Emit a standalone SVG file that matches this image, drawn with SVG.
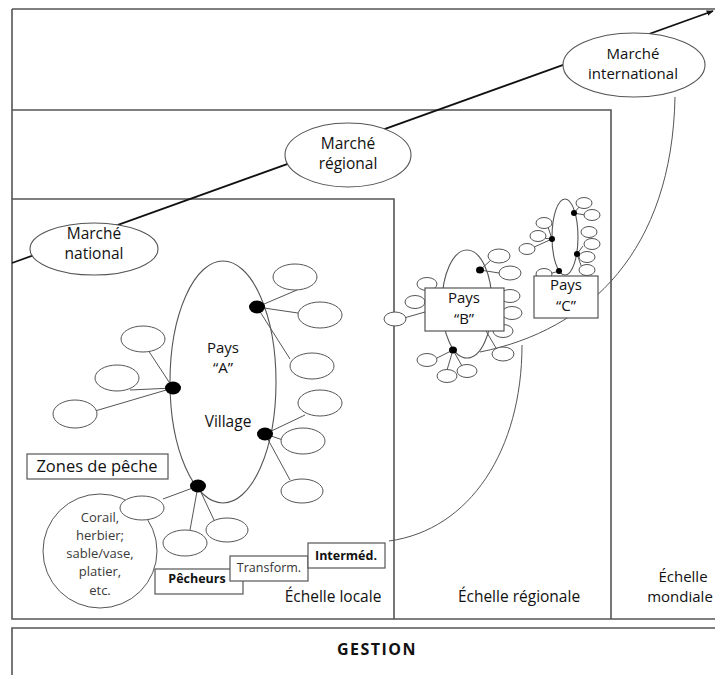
<svg xmlns="http://www.w3.org/2000/svg" width="715" height="675" viewBox="0 0 715 675">
<defs>
<style>
.frame{fill:none;stroke:#555;stroke-width:1.6}
.ell{fill:none;stroke:#555;stroke-width:1.1}
.sat{fill:#fff;stroke:#555;stroke-width:1}
.ln{fill:none;stroke:#555;stroke-width:1}
.dot{fill:#000}
.box{fill:#fff;stroke:#555;stroke-width:1.2}
.wf{fill:#fff}
text{font-family:"Open Sans","Noto Sans","Liberation Sans",sans-serif;fill:#111;text-anchor:middle}
.t15{font-size:15.5px}
.st{font-size:15px}
.lt{font-size:13px;fill:#3a3a3a}
.sm{font-size:12.5px}
.b{font-weight:bold}
</style>
<marker id="arr" viewBox="0 0 10 10" refX="9" refY="5" markerWidth="7" markerHeight="7" orient="auto" markerUnits="userSpaceOnUse">
<path d="M0,1 L10,5 L0,9 z" fill="#111"/>
</marker>
</defs>
<rect width="715" height="675" fill="#fff"/>

<g id="frames">
<path class="frame" d="M12,9 H715 M12,9 V619 H715 M12,110 H611 V619 M12,199 H394 V619 M715,628 H12 V675"/>
</g>

<g id="connectors">
<line x1="12" y1="263" x2="713" y2="11" stroke="#111" stroke-width="1.8" marker-end="url(#arr)"/>
<path class="ln" d="M675,97 C672,250 590,330 480,352"/>
<path class="ln" d="M389,541 C470,530 522,450 522,345"/>
</g>

<g id="marche-national">
<ellipse class="ell wf" cx="94" cy="249" rx="64" ry="26"/>
<text class="t15" x="94" y="239">Marché</text>
<text class="t15" x="94" y="259">national</text>
</g>
<g id="marche-regional">
<ellipse class="ell wf" cx="348" cy="155" rx="63" ry="32"/>
<text class="t15" x="348" y="149">Marché</text>
<text class="t15" x="348" y="169">régional</text>
</g>
<g id="marche-international">
<ellipse class="ell wf" cx="634" cy="65" rx="71" ry="32"/>
<text class="st" x="633" y="59">Marché</text>
<text class="st" x="633" y="79">international</text>
</g>

<g id="pays-a">
<path class="ln" d="M257,307 L297,290 M257,307 L298,313 M257,307 L290,359 M173,388 L148,350 M173,388 L130,390 M173,388 L95,411 M265,434 L305,415 M265,434 L283,440 M265,434 L290,480 M198,486 L163,499 M198,486 L190,530 M198,486 L214,520"/>
<ellipse class="ell" cx="223" cy="382" rx="53" ry="121"/>
<ellipse class="sat" cx="295" cy="277" rx="22" ry="13"/>
<ellipse class="sat" cx="320" cy="315" rx="22" ry="13"/>
<ellipse class="sat" cx="312" cy="366" rx="22" ry="13"/>
<ellipse class="sat" cx="143" cy="339" rx="22" ry="13"/>
<ellipse class="sat" cx="117" cy="378" rx="22" ry="13"/>
<ellipse class="sat" cx="75" cy="414" rx="22" ry="14"/>
<ellipse class="sat" cx="320" cy="403" rx="22" ry="13"/>
<ellipse class="sat" cx="303" cy="441" rx="22" ry="13"/>
<ellipse class="sat" cx="302" cy="491" rx="21" ry="12"/>
<ellipse class="dot" cx="257" cy="307" rx="8" ry="6.5"/>
<ellipse class="dot" cx="173" cy="388" rx="8" ry="6.5"/>
<ellipse class="dot" cx="265" cy="434" rx="8" ry="6.5"/>
<ellipse class="dot" cx="198" cy="486" rx="8" ry="6.5"/>
<text class="st" x="223" y="353">Pays</text>
<text class="st" x="223" y="373">“A”</text>
<text class="t15" x="228" y="427">Village</text>
</g>

<g id="zones-peche">
<rect class="box" x="27" y="454" width="141" height="25"/>
<text class="t15" x="97" y="472" style="font-size:16.5px">Zones de pêche</text>
</g>

<g id="habitats">
<circle class="sat" cx="100" cy="551" r="57"/>
<ellipse class="sat" cx="142" cy="508" rx="22" ry="12"/>
<ellipse class="sat" cx="185" cy="543" rx="22" ry="13"/>
<ellipse class="sat" cx="227" cy="530" rx="21" ry="12"/>
<text class="lt" x="100" y="522">Corail,</text>
<text class="lt" x="100" y="540">herbier;</text>
<text class="lt" x="100" y="558">sable/vase,</text>
<text class="lt" x="100" y="576">platier,</text>
<text class="lt" x="100" y="595">etc.</text>
</g>

<g id="pecheurs">
<rect class="box" x="155" y="569" width="88" height="25"/>
<text class="sm b" x="197" y="583">Pêcheurs</text>
</g>
<g id="transform">
<rect class="box" x="230" y="556" width="78" height="25"/>
<text class="sm" x="269" y="572" style="fill:#333">Transform.</text>
</g>
<g id="intermed">
<rect class="box" x="308" y="543" width="77" height="25"/>
<text class="sm b" x="346" y="560">Interméd.</text>
</g>

<g id="pays-b">
<path class="ln" d="M480,270 L491,260 M480,270 L499,273 M453,350 L437,358 M453,350 L447,370 M453,350 L462,366 M425,312 L404,318 M486,331 L496,348"/>
<ellipse class="ell" cx="467" cy="304" rx="25" ry="54"/>
<ellipse class="sat" cx="499" cy="256" rx="11" ry="7"/>
<ellipse class="sat" cx="510" cy="273" rx="11" ry="7"/>
<ellipse class="sat" cx="510" cy="296" rx="10" ry="6.5"/>
<ellipse class="sat" cx="512" cy="313" rx="10" ry="6.5"/>
<ellipse class="sat" cx="503" cy="331" rx="10" ry="6.5"/>
<ellipse class="sat" cx="503" cy="354" rx="11" ry="7"/>
<ellipse class="sat" cx="427" cy="284" rx="10" ry="6.5"/>
<ellipse class="sat" cx="415" cy="302" rx="10" ry="6.5"/>
<ellipse class="sat" cx="395" cy="319" rx="11" ry="7"/>
<ellipse class="sat" cx="427" cy="360" rx="10" ry="6.5"/>
<ellipse class="sat" cx="447" cy="376" rx="10" ry="6.5"/>
<ellipse class="sat" cx="467" cy="371" rx="10" ry="6.5"/>
<ellipse class="dot" cx="480" cy="270" rx="4" ry="3.5"/>
<ellipse class="dot" cx="453" cy="350" rx="4" ry="3.5"/>
<rect class="box" x="425" y="288" width="79" height="43"/>
<text class="st" x="464" y="303">Pays</text>
<text class="st" x="464" y="324">“B”</text>
</g>

<g id="pays-c">
<path class="ln" d="M574,213 L580,206 M574,213 L585,215 M552,239 L548,227 M552,239 L541,238 M552,239 L532,248 M577,254 L583,246 M577,254 L581,257 M559,271 L549,274 M577,254 L582,268"/>
<ellipse class="ell" cx="565" cy="237" rx="13" ry="38"/>
<ellipse class="sat" cx="584" cy="203" rx="8" ry="5.5"/>
<ellipse class="sat" cx="592" cy="215" rx="8" ry="5.5"/>
<ellipse class="sat" cx="589" cy="232" rx="8" ry="5.5"/>
<ellipse class="sat" cx="592" cy="244" rx="8" ry="5.5"/>
<ellipse class="sat" cx="587" cy="257" rx="8" ry="5.5"/>
<ellipse class="sat" cx="587" cy="270" rx="8" ry="5.5"/>
<ellipse class="sat" cx="544" cy="223" rx="8" ry="5.5"/>
<ellipse class="sat" cx="538" cy="236" rx="8" ry="5.5"/>
<ellipse class="sat" cx="527" cy="249" rx="8" ry="5.5"/>
<ellipse class="sat" cx="544" cy="274" rx="8" ry="5.5"/>
<ellipse class="dot" cx="574" cy="213" rx="3" ry="3"/>
<ellipse class="dot" cx="552" cy="239" rx="3" ry="3"/>
<ellipse class="dot" cx="577" cy="254" rx="3" ry="3"/>
<ellipse class="dot" cx="559" cy="271" rx="3" ry="3"/>
<rect class="box" x="534" y="276" width="64" height="42"/>
<text class="st" x="566" y="290">Pays</text>
<text class="st" x="566" y="311">“C”</text>
</g>

<g id="labels">
<text class="t15" x="333" y="602">Échelle locale</text>
<text class="t15" x="519" y="602">Échelle régionale</text>
<text class="st" x="683" y="582">Échelle</text>
<text class="st" x="680" y="602">mondiale</text>
</g>

<g id="gestion">
<text class="t15 b" x="377" y="655" style="font-size:16px;letter-spacing:1.5px">GESTION</text>
</g>
</svg>
